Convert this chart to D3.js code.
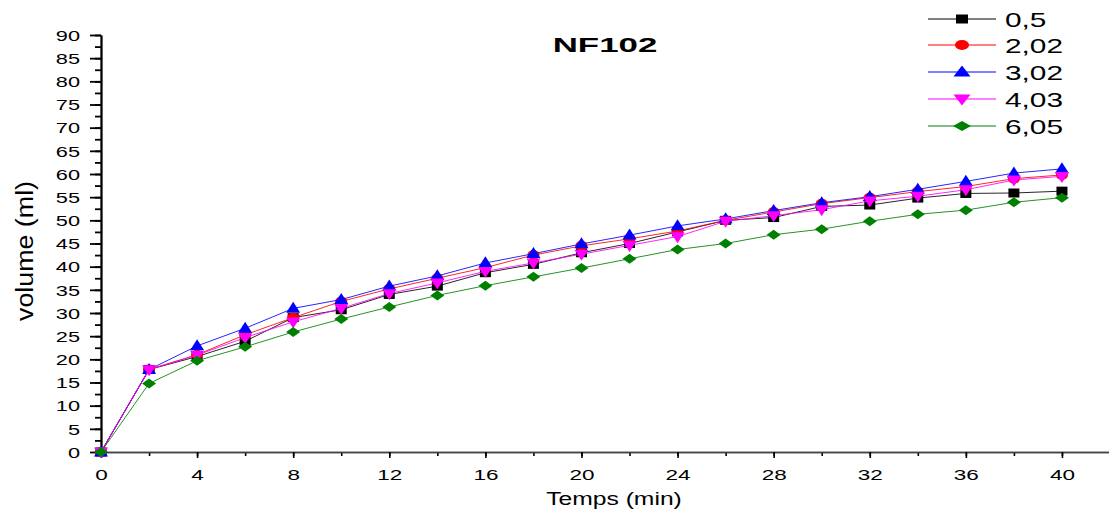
<!DOCTYPE html>
<html><head><meta charset="utf-8">
<script src="https://cdn.jsdelivr.net/npm/d3@7"></script>
<style>body{margin:0;background:#fff}svg{display:block;font-family:"Liberation Sans",Arial,sans-serif}</style>
</head><body><svg id="c" width="1109" height="512"></svg>
<script>
const times = [0,2,4,6,8,10,12,14,16,18,20,22,24,26,28,30,32,34,36,38,40];
const seriesNames = ["0,5","2,02","3,02","4,03","6,05"];
const s05  = [0,17.8,20.6,23.9,29,30.7,34,35.8,38.7,40.5,43,45,47.5,50,50.6,53,53.3,54.8,55.8,55.9,56.3];
const s202 = [0,17.8,21,25.3,29,32.5,35.2,37.5,39.8,42.5,44.5,46,47.7,50,51.8,53.6,54.9,56.2,57.3,59,59.8];
const s302 = [0,17.8,22.9,26.7,31,32.9,35.8,38,40.8,42.8,44.9,46.8,48.8,50.3,52.1,53.8,55.1,56.7,58.4,60.2,61.1];
const s403 = [0,17.8,20.9,24.7,28.1,31,34.2,36.5,39,40.8,42.7,44.6,46.5,49.8,51,52.3,54.2,55.2,56.6,58.7,59.5];
const s605 = [0,14.8,19.7,22.7,25.9,28.7,31.3,33.8,35.9,37.8,39.7,41.7,43.7,45,46.9,48.1,49.8,51.3,52.2,53.9,54.9];
const yTicks = [0,5,10,15,20,25,30,35,40,45,50,55,60,65,70,75,80,85,90];
const xTicks = [0,4,8,12,16,20,24,28,32,36,40];

const colors = ["#000000","#ff0000","#0000ff","#ff00ff","#008000"];
const shapes = ["square","circle","up","down","diamond"];
const data = [s05,s202,s302,s403,s605];

const svg = d3.select("#c");
const x = d3.scaleLinear().domain([0,42]).range([101,1110]);
const y = d3.scaleLinear().domain([0,90]).range([452,35]);

function stretch(sel, f){
  sel.each(function(){
    const l = this.getComputedTextLength();
    this.setAttribute("textLength", l*f);
    this.setAttribute("lengthAdjust","spacingAndGlyphs");
  });
}

// axes
const gy = svg.append("g").attr("transform","translate(101,0)");
gy.call(d3.axisLeft(y).tickValues(d3.range(0,90.1,2.5)).tickFormat("").tickSize(6).tickSizeOuter(0));
const gyl = gy.append("g").call(d3.axisLeft(y).tickValues(yTicks).tickSize(11).tickSizeOuter(0).tickPadding(10));
gyl.selectAll("text").attr("font-size",14.5).attr("fill","#000").style("font-family","Liberation Sans, Arial").attr("dy","0.36em");
stretch(gyl.selectAll("text"),1.5);
gy.selectAll("path,line").attr("stroke","#000").attr("stroke-width",1.8);

const gx = svg.append("g").attr("transform","translate(0,452)");
gx.call(d3.axisBottom(x).tickValues(d3.range(0,41,2)).tickFormat("").tickSize(4).tickSizeOuter(0));
const gxl = gx.append("g").call(d3.axisBottom(x).tickValues(xTicks).tickSize(6).tickSizeOuter(0).tickPadding(11));
gxl.selectAll("text").attr("font-size",15.5).attr("fill","#000").style("font-family","Liberation Sans, Arial");
stretch(gxl.selectAll("text"),1.45);
gx.selectAll("path,line").attr("stroke","#000").attr("stroke-width",1.6);
gx.selectAll(".domain").attr("stroke","#444");

// labels
const xl = svg.append("text").attr("x",614).attr("y",505).attr("text-anchor","middle").attr("font-size",18).text("Temps (min)");
stretch(xl,1.37);
svg.append("text").attr("transform","translate(33,251) rotate(-90) scale(1,1.3)").attr("text-anchor","middle").attr("font-size",19).attr("textLength",140).attr("lengthAdjust","spacingAndGlyphs").text("volume (ml)");
const tt = svg.append("text").attr("x",605).attr("y",52).attr("text-anchor","middle").attr("font-size",21).attr("font-weight","bold").text("NF102");
stretch(tt,1.66);

function shapePath(s, w, h){
  const a=w/2, b=h/2;
  switch(s){
    case "square": return `M${-a},${-b}H${a}V${b}H${-a}Z`;
    case "circle": return `M${-a},0A${a},${b} 0 1,0 ${a},0A${a},${b} 0 1,0 ${-a},0Z`;
    case "up": return `M0,${-h*0.6}L${a},${h*0.4}L${-a},${h*0.4}Z`;
    case "down": return `M0,${h*0.6}L${a},${-h*0.4}L${-a},${-h*0.4}Z`;
    case "diamond": return `M0,${-b}L${a},0L0,${b}L${-a},0Z`;
  }
}
const msz = [[11,9],[12,10],[14,11],[14,11],[14,10]];
const lsz = [[12,9],[14,10],[17,11],[17,11],[18,10]];

const line = d3.line().x((d,i)=>x(times[i])).y(d=>y(d));
data.forEach((vals,i)=>{
  const g = svg.append("g");
  g.append("path").attr("d",line(vals)).attr("fill","none").attr("stroke",colors[i]).attr("stroke-width",1).attr("stroke-opacity",0.85);
  g.selectAll("path.m").data(vals).enter().append("path").attr("class","m")
   .attr("d",shapePath(shapes[i],msz[i][0],msz[i][1]))
   .attr("transform",(d,j)=>`translate(${x(times[j])},${y(d)})`)
   .attr("fill",colors[i]);
});

// legend
const legY = [19,45,72,99,126];
seriesNames.forEach((n,i)=>{
  const g = svg.append("g").attr("transform",`translate(0,${legY[i]})`);
  g.append("line").attr("x1",928).attr("x2",996).attr("y1",0).attr("y2",0).attr("stroke",colors[i]).attr("stroke-width",1);
  g.append("path").attr("d",shapePath(shapes[i],lsz[i][0],lsz[i][1])).attr("transform",`translate(962,0)`).attr("fill",colors[i]);
  const t = g.append("text").attr("x",1005).attr("y",7.5).attr("font-size",21).text(n);
  stretch(t,1.42);
});
</script></body></html>
